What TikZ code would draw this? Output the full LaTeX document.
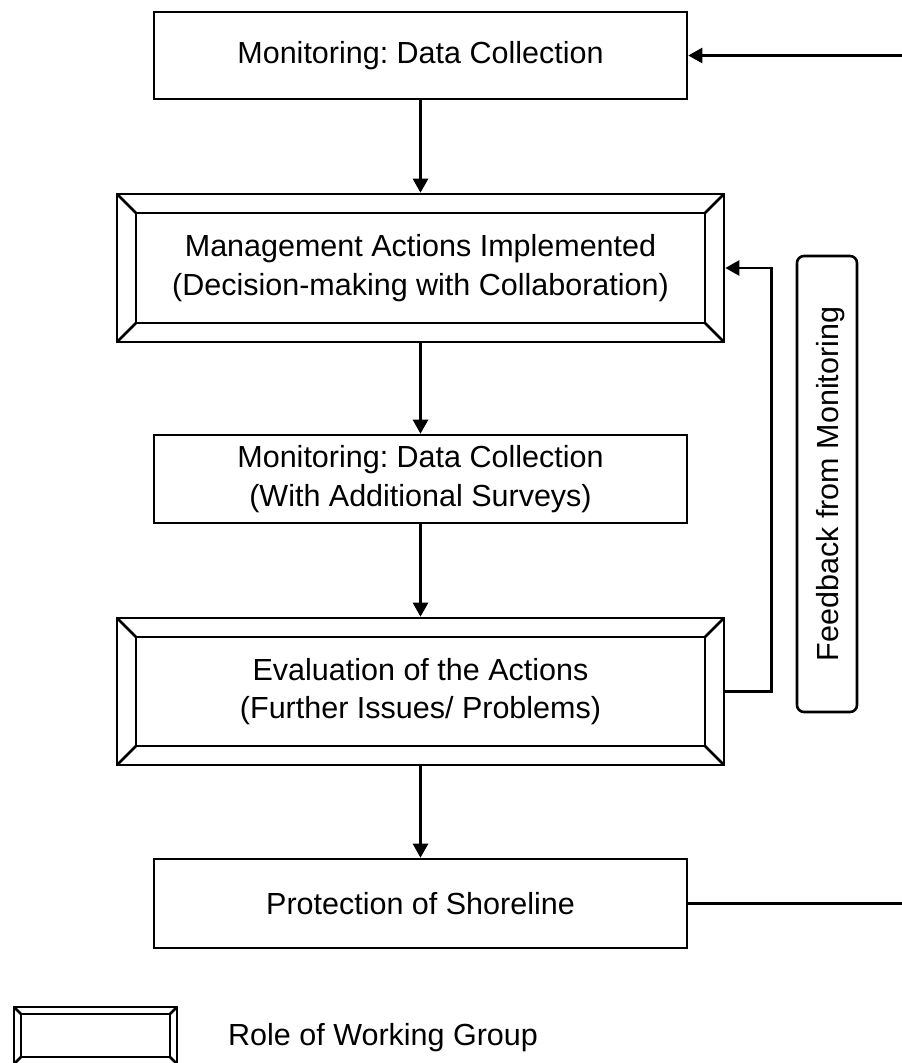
\documentclass[tikz,border=0pt]{standalone}
\usepackage{fontspec}
\setmainfont{Liberation Sans}
\usetikzlibrary{arrows.meta}
\frenchspacing
\begin{document}
\begin{tikzpicture}[x=1pt,y=-1pt,
 lw/.style={line width=2.6pt},
 txt/.style={font=\fontsize{30.5pt}{38.5pt}\selectfont, align=center},
 plainbox/.style={draw, lw, txt, rectangle, inner sep=0pt, minimum width=533pt},
 bevelbox/.style={draw, lw, txt, rectangle, inner sep=0pt, path picture={
   \draw[lw] ([shift={(#1,-#1)}]path picture bounding box.north west) rectangle ([shift={(-#1,#1)}]path picture bounding box.south east);
   \draw[lw] (path picture bounding box.north west) -- ++(#1,-#1);
   \draw[lw] (path picture bounding box.north east) -- ++(-#1,-#1);
   \draw[lw] (path picture bounding box.south west) -- ++(#1,#1);
   \draw[lw] (path picture bounding box.south east) -- ++(-#1,#1);
 }},
 arr/.style={lw, -{Triangle[length=14pt,width=15pt]}},
]
\useasboundingbox (0,0) rectangle (902,1063);
\coordinate (edge) at (902,0);
\node[plainbox, minimum height=87pt] (b1) at (420.5,55.5) {Monitoring: Data Collection};
\node[bevelbox=19pt, minimum width=607pt, minimum height=148pt] (b2) at (420.5,268) {Management Actions Implemented\\(Decision-making with Collaboration)};
\node[plainbox, minimum height=88pt] (b3) at (420.5,479) {Monitoring: Data Collection\\(With Additional Surveys)};
\node[bevelbox=19pt, minimum width=607pt, minimum height=147pt] (b4) at (420.5,691.5) {Evaluation of the Actions\\(Further Issues/ Problems)};
\node[plainbox, minimum height=89pt] (b5) at (420.5,903.5) {Protection of Shoreline};
\node[draw, lw, rounded corners=7pt, rotate=90, minimum width=456pt, minimum height=60pt, font=\fontsize{30.5pt}{38.5pt}\selectfont, text height=22pt, text depth=0pt, inner sep=0pt] (fb) at (827,484) {Feedback from Monitoring};
\node[bevelbox=7pt, minimum width=163pt, minimum height=57pt] (leg) at (95.5,1035.5) {};
\node[txt, anchor=base west, inner sep=0pt] (legt) at (228,1045) {Role of Working Group};
\draw[arr] (b1.south) -- (b2.north);
\draw[arr] (b2.south) -- (b3.north);
\draw[arr] (b3.south) -- (b4.north);
\draw[arr] (b4.south) -- (b5.north);
\draw[arr] (b4.east) -- ++(46pt,0pt) |- (b2.east);
\draw[arr] (b1.east -| edge) -- (b1.east);
\draw[lw] (b5.east) -- (b5.east -| edge);
\end{tikzpicture}
\end{document}
